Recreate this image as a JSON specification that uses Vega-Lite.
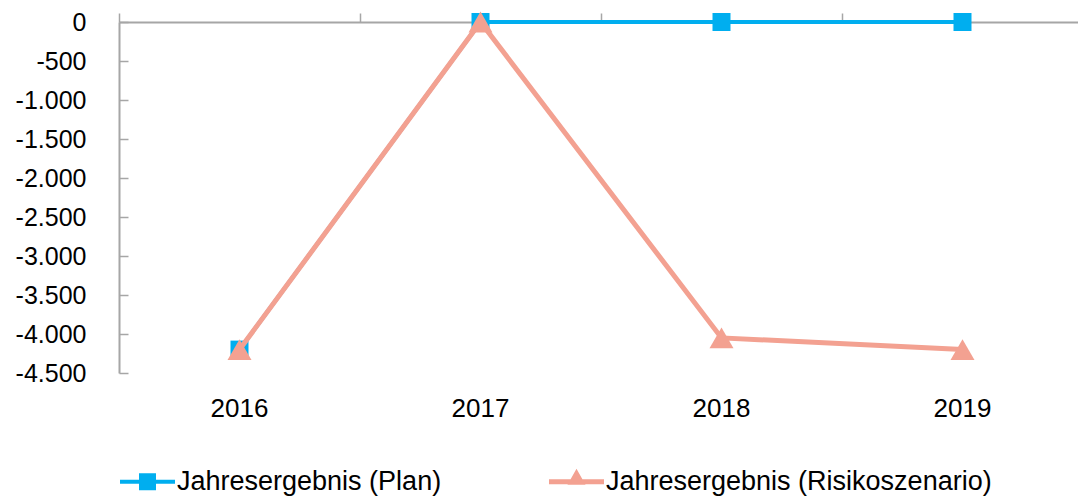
{
  "$schema": "https://vega.github.io/schema/vega-lite/v6.json",
  "width": 964,
  "height": 351,
  "autosize": "none",
  "padding": {"left": 119, "top": 22, "right": 0, "bottom": 123},
  "background": "white",
  "config": {
    "font": "Liberation Sans",
    "view": {"stroke": null},
    "locale": {"number": {"decimal": ",", "thousands": ".", "grouping": [3], "currency": ["", " €"], "minus": "-"}}
  },
  "data": {
    "values": [
      {"year": "2016", "series": "Jahresergebnis (Plan)", "value": -4200},
      {"year": "2017", "series": "Jahresergebnis (Plan)", "value": 0},
      {"year": "2018", "series": "Jahresergebnis (Plan)", "value": 0},
      {"year": "2019", "series": "Jahresergebnis (Plan)", "value": 0},
      {"year": "2016", "series": "Jahresergebnis (Risikoszenario)", "value": -4200},
      {"year": "2017", "series": "Jahresergebnis (Risikoszenario)", "value": 0},
      {"year": "2018", "series": "Jahresergebnis (Risikoszenario)", "value": -4050},
      {"year": "2019", "series": "Jahresergebnis (Risikoszenario)", "value": -4200}
    ]
  },
  "encoding": {
    "x": {"field": "year", "type": "ordinal", "scale": {"type": "band", "paddingInner": 0, "paddingOuter": 0}, "axis": null},
    "y": {
      "field": "value", "type": "quantitative",
      "scale": {"domain": [-4500, 0], "nice": false, "zero": false},
      "axis": {
        "title": null, "grid": false, "values": [0, -500, -1000, -1500, -2000, -2500, -3000, -3500, -4000, -4500],
        "format": ",d", "labelFontSize": 25, "labelColor": "#000000", "labelPadding": 42,
        "domainColor": "#a6a6a6", "domainWidth": 2, "tickColor": "#a6a6a6", "tickWidth": 1.5, "tickSize": -9
      }
    },
    "color": {
      "field": "series", "type": "nominal",
      "scale": {"domain": ["Jahresergebnis (Plan)", "Jahresergebnis (Risikoszenario)"], "range": ["#00aeef", "#f3a191"]},
      "legend": {
        "title": null, "orient": "none", "legendX": 1, "legendY": 432, "direction": "horizontal",
        "labelFontSize": 27, "labelColor": "#000000", "labelOffset": 2, "labelLimit": 600,
        "columnPadding": 107, "symbolSize": 3025, "padding": 0,
        "encode": {
          "symbols": {
            "update": {
              "shape": {"signal": "datum.value === 'Jahresergebnis (Plan)' ? 'M-1,-0.073H1V0.073H-1Z M-0.309,-0.309H0.309V0.309H-0.309Z' : 'M-1,-0.09H1V0.09H-1Z M0,-0.47L0.327,0.11H-0.327Z'"},
              "fill": {"signal": "scale('color', datum.value)"},
              "strokeWidth": {"value": 0},
              "opacity": {"value": 1}
            }
          }
        }
      }
    }
  },
  "resolve": {"axis": {"x": "independent"}},
  "layer": [
    {
      "transform": [{"filter": "datum.series === 'Jahresergebnis (Plan)'"}],
      "mark": {"type": "line", "strokeWidth": 4},
      "encoding": {
        "x": {"field": "year", "type": "ordinal", "axis": {"orient": "bottom", "title": null, "domain": false, "ticks": false, "labelAngle": 0, "labelFontSize": 26, "labelColor": "#000000", "labelPadding": 22}}
      }
    },
    {
      "transform": [{"filter": "datum.series === 'Jahresergebnis (Plan)'"}],
      "mark": {"type": "point", "filled": true, "shape": "square", "size": 324, "opacity": 1},
      "encoding": {
        "x": {"field": "year", "type": "ordinal", "axis": {"orient": "top", "title": null, "labels": false, "domain": true, "domainColor": "#a6a6a6", "domainWidth": 2, "ticks": true, "tickBand": "extent", "tickSize": 9, "tickColor": "#a6a6a6", "tickWidth": 1.5}}
      }
    },
    {
      "transform": [{"filter": "datum.series === 'Jahresergebnis (Risikoszenario)'"}],
      "mark": {"type": "line", "strokeWidth": 5}
    },
    {
      "transform": [{"filter": "datum.series === 'Jahresergebnis (Risikoszenario)'"}],
      "mark": {"type": "point", "filled": true, "shape": "triangle-up", "size": 576, "opacity": 1}
    }
  ]
}
